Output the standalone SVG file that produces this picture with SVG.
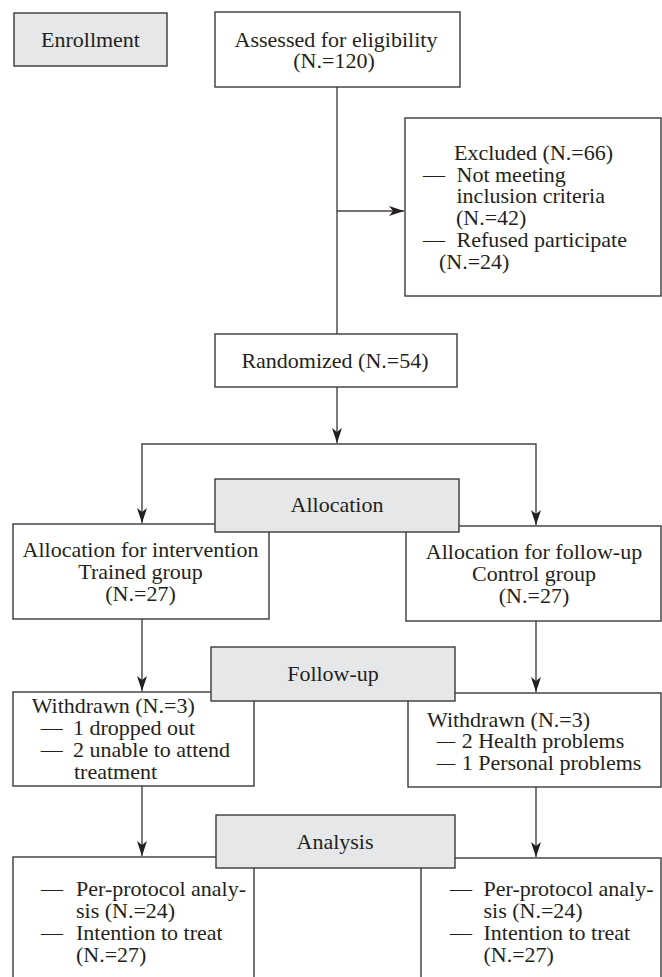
<svg xmlns="http://www.w3.org/2000/svg" width="662" height="977" viewBox="0 0 662 977">
<style>
.box{fill:#ffffff;stroke:#3a3a3a;stroke-width:1.4}
.gray{fill:#e6e7e8;stroke:#3a3a3a;stroke-width:1.4}
text{font-family:"Liberation Serif","Times New Roman",serif;font-size:22px;fill:#231f20}
.c{text-anchor:middle}
.conn{fill:none;stroke:#444444;stroke-width:1.4}
</style>
<defs>
<marker id="arr" markerUnits="userSpaceOnUse" markerWidth="20" markerHeight="14" viewBox="-16 -7 18 14" refX="0" refY="0" orient="auto">
<path d="M0,0 L-15,-5 L-11,0 L-15,5 Z" fill="#231f20"/>
</marker>
</defs>
<rect x="-1" y="-1" width="664" height="979" fill="#ffffff"/>
<g id="connectors">
<path class="conn" d="M337,87 V334"/>
<path class="conn" d="M337,211 H404" marker-end="url(#arr)"/>
<path class="conn" d="M337,387 V443" marker-end="url(#arr)"/>
<path class="conn" d="M337,444 H142 V523" marker-end="url(#arr)"/>
<path class="conn" d="M337,444 H536 V525" marker-end="url(#arr)"/>
<path class="conn" d="M142,619 V691" marker-end="url(#arr)"/>
<path class="conn" d="M536,621 V692" marker-end="url(#arr)"/>
<path class="conn" d="M142,786 V856" marker-end="url(#arr)"/>
<path class="conn" d="M536,787 V857" marker-end="url(#arr)"/>
</g>
<g id="enrollment">
<rect class="gray" x="14" y="13" width="153" height="53"/>
<text class="c" x="90.5" y="47">Enrollment</text>
</g>
<g id="assessed">
<rect class="box" x="215" y="12" width="245" height="75"/>
<text class="c" x="336" y="47">Assessed for eligibility</text>
<text class="c" x="334" y="68">(N.=120)</text>
</g>
<g id="excluded">
<rect class="box" x="405" y="118" width="256" height="178"/>
<text x="454" y="160">Excluded (N.=66)</text>
<text x="423" y="182">—</text><text x="456.5" y="182">Not meeting</text>
<text x="456.5" y="203">inclusion criteria</text>
<text x="456" y="225">(N.=42)</text>
<text x="423" y="247">—</text><text x="456.5" y="247">Refused participate</text>
<text x="439" y="269">(N.=24)</text>
</g>
<g id="randomized">
<rect class="box" x="215" y="334" width="242" height="53"/>
<text class="c" x="335" y="368">Randomized (N.=54)</text>
</g>
<g id="intervention">
<rect class="box" x="13" y="524" width="256" height="95"/>
<text class="c" x="140.5" y="557">Allocation for intervention</text>
<text class="c" x="140.5" y="579">Trained group</text>
<text class="c" x="140.5" y="601">(N.=27)</text>
</g>
<g id="control">
<rect class="box" x="406" y="526" width="255" height="95"/>
<text class="c" x="534" y="559">Allocation for follow-up</text>
<text class="c" x="534" y="581">Control group</text>
<text class="c" x="534" y="603">(N.=27)</text>
</g>
<g id="allocation">
<rect class="gray" x="215" y="479" width="244" height="53"/>
<text class="c" x="337" y="512">Allocation</text>
</g>
<g id="withdrawn-left">
<rect class="box" x="13" y="692" width="241" height="94"/>
<text x="31.7" y="713">Withdrawn (N.=3)</text>
<text x="40.7" y="735">—</text><text x="73" y="735">1 dropped out</text>
<text x="40.7" y="757">—</text><text x="73" y="757">2 unable to attend</text>
<text x="74" y="779">treatment</text>
</g>
<g id="withdrawn-right">
<rect class="box" x="408" y="693" width="253" height="94"/>
<text x="427" y="727">Withdrawn (N.=3)</text>
<text x="436.7" y="748" textLength="18.5" lengthAdjust="spacingAndGlyphs">—</text><text x="461.7" y="748">2 Health problems</text>
<text x="436.7" y="770" textLength="18.5" lengthAdjust="spacingAndGlyphs">—</text><text x="461.7" y="770">1 Personal problems</text>
</g>
<g id="followup">
<rect class="gray" x="211" y="647" width="244" height="54"/>
<text class="c" x="333" y="681">Follow-up</text>
</g>
<g id="analysis-left">
<rect class="box" x="13" y="857" width="241" height="140"/>
<text x="41" y="896">—</text><text x="76" y="896">Per-protocol analy-</text>
<text x="76" y="918">sis (N.=24)</text>
<text x="41" y="940">—</text><text x="76" y="940">Intention to treat</text>
<text x="76" y="962">(N.=27)</text>
</g>
<g id="analysis-right">
<rect class="box" x="421" y="858" width="240" height="140"/>
<text x="450" y="896">—</text><text x="483.5" y="896">Per-protocol analy-</text>
<text x="483.5" y="918">sis (N.=24)</text>
<text x="450" y="940">—</text><text x="483.5" y="940">Intention to treat</text>
<text x="483.5" y="962">(N.=27)</text>
</g>
<g id="analysis">
<rect class="gray" x="216" y="815" width="239" height="53"/>
<text class="c" x="335" y="849">Analysis</text>
</g>
</svg>
